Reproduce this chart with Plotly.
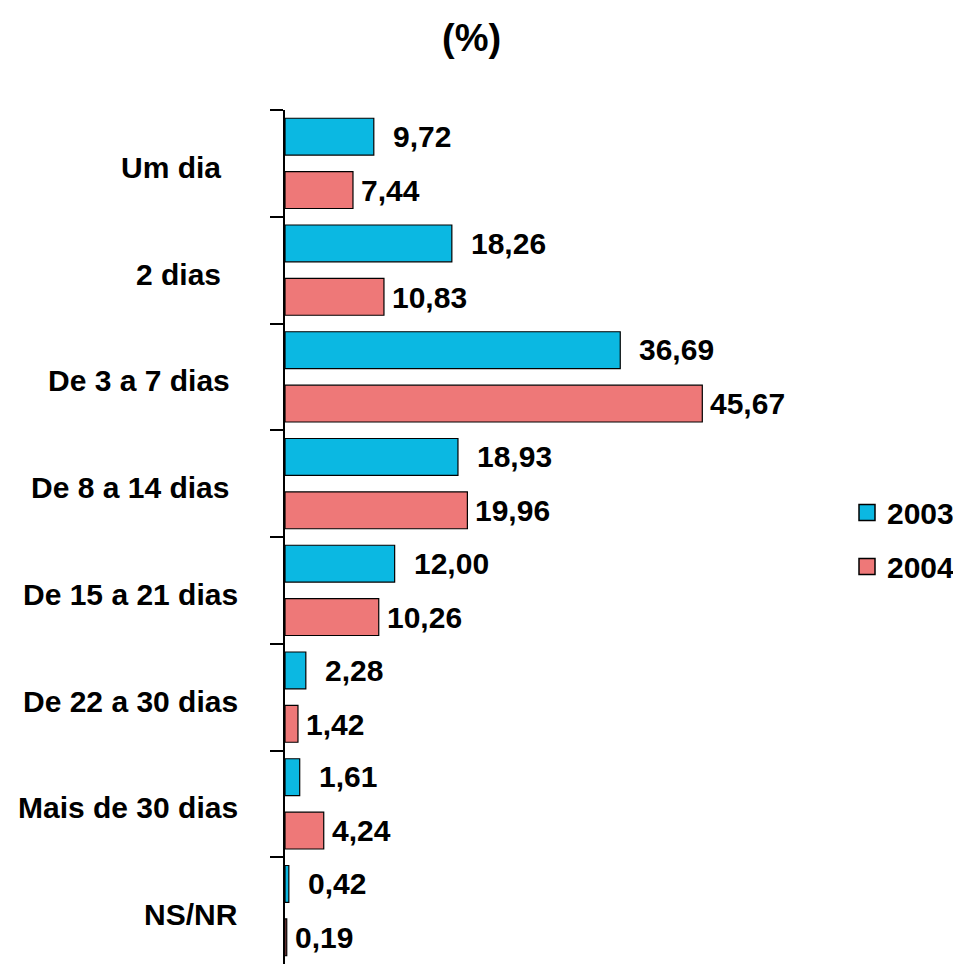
import plotly.graph_objects as go

categories = ["Um dia\u00a0\u00a0", "2 dias\u00a0\u00a0", "De 3 a 7 dias\u00a0", "De 8 a 14 dias\u00a0",
              "De 15 a 21 dias", "De 22 a 30 dias", "Mais de 30 dias", "NS/NR"]
values_2003 = [9.72, 18.26, 36.69, 18.93, 12.00, 2.28, 1.61, 0.42]
values_2004 = [7.44, 10.83, 45.67, 19.96, 10.26, 1.42, 4.24, 0.19]
series_names = ["2003", "2004"]
colors = ["#0BB8E2", "#EE7878"]

FONT = "Liberation Sans, Arial, sans-serif"

def bfont(size):
    return dict(family=FONT, size=size, color="black", weight="bold")

# page body has an 8px margin: figure coords = screen coords - 8
W, H = 953, 956
L, T, PW, PH = 277, 102, 466, 854

fig = go.Figure()
for name, vals, col, grp in zip(series_names, [values_2003, values_2004], colors, ["a", "b"]):
    fig.add_trace(go.Bar(
        y=categories, x=vals, orientation="h", name=name, legendgroup=grp, showlegend=False,
        marker=dict(color=col, line=dict(color="black", width=1.2)),
    ))
# legend entries with larger square swatches
for name, col, grp in zip(series_names, colors, ["a", "b"]):
    fig.add_trace(go.Scatter(
        x=[None], y=[None], mode="markers", name=name, legendgroup=grp,
        marker=dict(symbol="square", size=16, color=col, line=dict(color="black", width=1.5)),
    ))

def fmt(v):
    return f"{v:.2f}".replace(".", ",")

for cat, v in zip(categories, values_2003):
    fig.add_annotation(x=v, y=cat, text=fmt(v), showarrow=False, xanchor="left",
                       xshift=17, yshift=27, font=bfont(30))
for cat, v in zip(categories, values_2004):
    fig.add_annotation(x=v, y=cat, text=fmt(v), showarrow=False, xanchor="left",
                       xshift=6, yshift=-27, font=bfont(30))

# category labels
for cat in categories:
    fig.add_annotation(xref="paper", x=(232 - L) / PW, y=cat, text=cat, showarrow=False,
                       xanchor="right", yshift=-4, font=bfont(30))

fig.add_annotation(xref="paper", yref="paper", x=(463 - L) / PW, y=1 + (T - 30) / PH,
                   text="(%)", showarrow=False, xanchor="center", yanchor="middle",
                   font=bfont(38))

fig.update_layout(
    width=W, height=H,
    margin=dict(l=L, r=W - L - PW, t=T, b=H - T - PH, autoexpand=False),
    paper_bgcolor="white", plot_bgcolor="white",
    barmode="group", bargap=0.0, bargroupgap=0.31,
    font=bfont(30),
    showlegend=True,
    legend=dict(x=(W - 1 - L) / PW, y=0.497, xanchor="right", yanchor="middle",
                font=bfont(30), traceorder="grouped",
                itemsizing="trace", tracegroupgap=12, bgcolor="rgba(0,0,0,0)"),
    xaxis=dict(range=[0, 51], visible=False, showgrid=False, automargin=False),
    yaxis=dict(autorange="reversed", showline=True, linecolor="black", linewidth=1.5,
               ticks="outside", tickson="boundaries", ticklen=13, tickcolor="black",
               tickwidth=1.5, showgrid=False, showticklabels=False, automargin=False),
)

fig.write_html("out.html")
